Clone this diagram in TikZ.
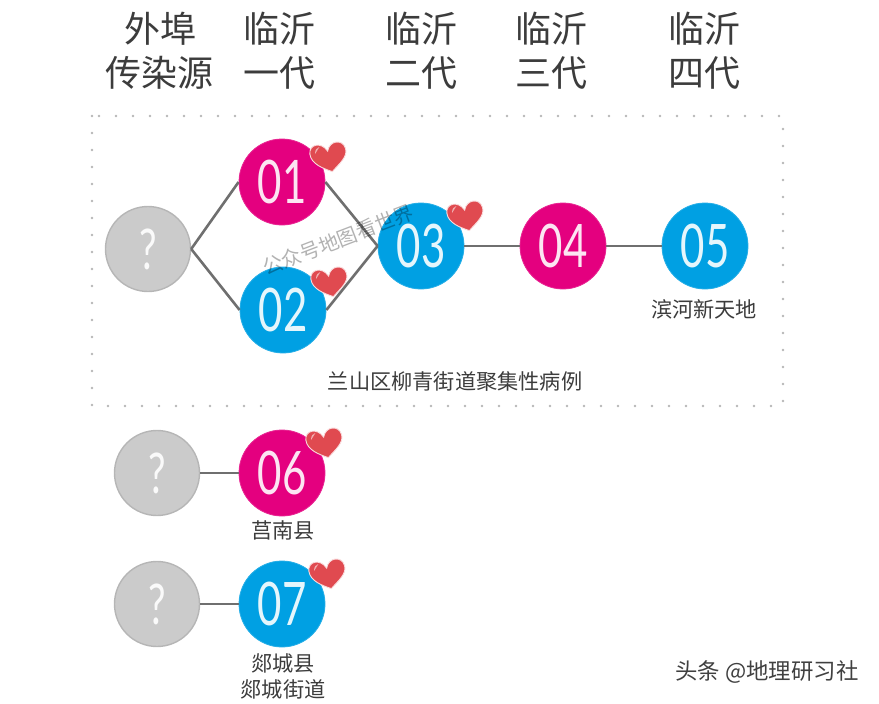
\documentclass[tikz,border=0pt]{standalone}
\usepackage{xcolor}
\usepackage{fontspec}
\usepackage{tikz}
\usetikzlibrary{positioning}
\setmainfont{Noto Sans CJK SC}
\newfontfamily\digitfont[FakeStretch=0.7]{Lato}
\definecolor{rose}{HTML}{E4007F}
\definecolor{azure}{HTML}{00A0E3}
\definecolor{stone}{HTML}{CBCBCB}
\definecolor{stoneline}{HTML}{B6B6B6}
\definecolor{wire}{HTML}{6F6F6F}
\definecolor{ink}{HTML}{3C3C3C}
\definecolor{heartred}{HTML}{E04A50}
\tikzset{
  head/.style={text=ink,font=\fontsize{36}{36}\selectfont,inner sep=0pt},
  place/.style={text=ink,font=\fontsize{21.2}{21.2}\selectfont,inner sep=0pt},
  wireline/.style={draw=wire,line width=2.6pt},
}
\newcommand{\casecircle}[4]{
  \node[circle,fill=#3,draw=#3!85!white,line width=0.8pt,minimum size=86pt,inner sep=0pt,text=white!90!#3,font=\digitfont\fontsize{60}{60}\selectfont] (#1) at #2 {#4};
}
\newcommand{\unknowncircle}[2]{
  \node[circle,fill=stone,draw=stoneline,line width=1.4pt,minimum size=85pt,inner sep=0pt,text=white!90!stone,font=\digitfont\fontsize{56}{56}\selectfont] (#1) at #2 {?};
}
\newcommand{\caseheart}[1]{
  \begin{scope}[shift={#1},rotate=13]
    \draw[draw=white!80!heartred,fill=heartred,line width=0.9pt] (0,15) .. controls (-8,10) and (-19,3) .. (-18,-7) .. controls (-17,-17) and (-4,-17) .. (0,-6) .. controls (4,-16) and (17,-15) .. (18,-5) .. controls (19,4) and (8,9) .. (0,15) -- cycle;
    \fill[white!55!heartred] (-13,-6) .. controls (-12,-10) and (-10,-12) .. (-7,-12) .. controls (-10,-10) and (-11,-7) .. (-13,-6) -- cycle;
  \end{scope}
}

\begin{document}
\begin{tikzpicture}[x=1pt,y=-1pt]
  \useasboundingbox (0,0) rectangle (879,704);
  \node[head] (h0a) at (160,29) {外埠};
  \node[head] (h0b) at (159,73) {传染源};
  \node[head] (h1a) at (279,29) {临沂};
  \node[head] (h1b) at (279,73) {一代};
  \node[head] (h2a) at (421,29) {临沂};
  \node[head] (h2b) at (421,73) {二代};
  \node[head] (h3a) at (551,29) {临沂};
  \node[head] (h3b) at (551,73) {三代};
  \node[head] (h4a) at (704,29) {临沂};
  \node[head] (h4b) at (704,73) {四代};
  \draw[stoneline,line width=2.6pt,line cap=round,dash pattern=on 0pt off 17pt] (92,116) rectangle (783,406);
  \unknowncircle{q1}{(148,249)}
  \unknowncircle{q2}{(157,473)}
  \unknowncircle{q3}{(157,604)}
  \casecircle{n01}{(282,182)}{rose}{01}
  \casecircle{n02}{(283,310)}{azure}{02}
  \casecircle{n03}{(421,246)}{azure}{03}
  \casecircle{n04}{(563,246)}{rose}{04}
  \casecircle{n05}{(705,246)}{azure}{05}
  \casecircle{n06}{(282,473)}{rose}{06}
  \casecircle{n07}{(282,604)}{azure}{07}
  \draw[wireline] (q1.east) -- (n01.west);
  \draw[wireline] (q1.east) -- (n02.west);
  \draw[wireline] (n01.east) -- (n03.west);
  \draw[wireline] (n02.east) -- (n03.west);
  \draw[wireline] (n03) -- (n04);
  \draw[wireline] (n04) -- (n05);
  \draw[wireline] (q2) -- (n06);
  \draw[wireline] (q3) -- (n07);
  \caseheart{(329,157)}
  \caseheart{(330,282)}
  \caseheart{(466,216)}
  \caseheart{(325,443)}
  \caseheart{(328,574)}
  \node[place] (p05) at (704,309) {滨河新天地};
  \node[place] (pgroup) at (455,382) {兰山区柳青街道聚集性病例};
  \node[place] (p06) at (283,530) {莒南县};
  \node[place] (p07a) at (283,663) {郯城县};
  \node[place] (p07b) at (283,689) {郯城街道};
  \node[text=black!75,font=\fontsize{22.4}{22.4}\selectfont,inner sep=0pt] (mark) at (767,672) {头条 @地理研习社};
  \node[text=black,opacity=0.3,rotate=21,font=\fontsize{20}{20}\selectfont,inner sep=0pt] (stamp) at (338,240) {公众号地图看世界};
\end{tikzpicture}
\end{document}
